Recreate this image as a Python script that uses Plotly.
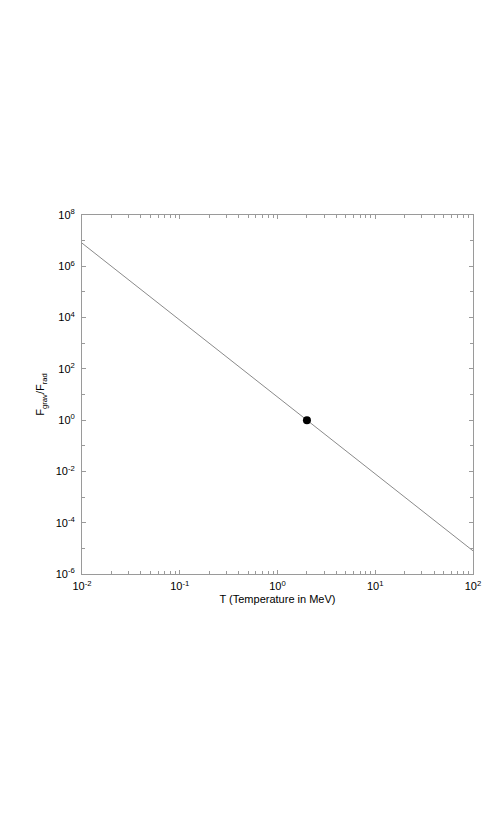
import plotly.graph_objects as go

# Data
T_line = [0.01, 100.0]          # Temperature in MeV
F_line = [8.0e6, 8.0e-6]        # Fgrav/Frad
T_point = [2.0]
F_point = [1.0]

x_major = [0.01, 0.1, 1, 10, 100]
x_labels = ["10<sup>-2</sup>", "10<sup>-1</sup>", "10<sup>0</sup>", "10<sup>1</sup>", "10<sup>2</sup>"]
y_major = [1e8, 1e6, 1e4, 1e2, 1e0, 1e-2, 1e-4, 1e-6]
y_labels = ["10<sup>8</sup>", "10<sup>6</sup>", "10<sup>4</sup>", "10<sup>2</sup>",
            "10<sup>0</sup>", "10<sup>-2</sup>", "10<sup>-4</sup>", "10<sup>-6</sup>"]
y_minor = [1e7, 1e5, 1e3, 1e1, 1e-1, 1e-3, 1e-5]
x_minor = [m * d for d in [0.01, 0.1, 1, 10] for m in range(2, 10)]

FONT = "Liberation Sans Narrow, Liberation Sans, Arial"
fig = go.Figure()
fig.add_trace(go.Scatter(x=T_line, y=F_line, mode="lines",
                         line=dict(color="#8a8a8a", width=1), showlegend=False))
fig.add_trace(go.Scatter(x=T_point, y=F_point, mode="markers",
                         marker=dict(color="black", size=8), showlegend=False))

axis_common = dict(showgrid=False, zeroline=False, showline=True, linecolor="#9a9a9a",
                   linewidth=1, mirror="ticks", ticks="inside", ticklen=4,
                   tickcolor="#9a9a9a", tickfont=dict(family=FONT, size=11, color="black"))

fig.update_xaxes(type="log", range=[-2, 2], tickvals=x_major, ticktext=x_labels,
                 minor=dict(tickvals=x_minor, ticks="inside", ticklen=3, tickcolor="#9a9a9a"),
                 title=dict(text="T (Temperature in MeV)", font=dict(family=FONT, size=11, color="black"), standoff=4),
                 ticklabelstandoff=2,
                 **axis_common)
fig.update_yaxes(type="log", range=[-6, 8], tickvals=y_major, ticktext=y_labels,
                 minor=dict(tickvals=y_minor, ticks="inside", ticklen=3, tickcolor="#9a9a9a"),
                 title=dict(text="F<sub>grav</sub>/F<sub>rad</sub>", font=dict(family=FONT, size=11, color="black"), standoff=8),
                 ticklabelstandoff=4,
                 **axis_common)

fig.update_layout(width=498, height=830, plot_bgcolor="white", paper_bgcolor="white",
                  margin=dict(l=74, r=33, t=207, b=264, autoexpand=False))

fig.write_html("out.html")
